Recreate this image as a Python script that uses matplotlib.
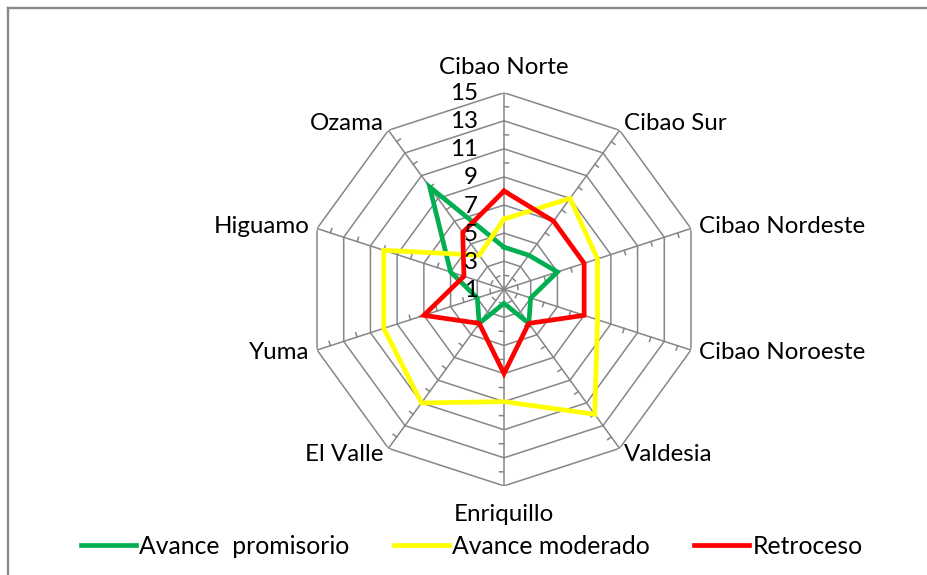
import numpy as np
import matplotlib
matplotlib.use('Agg')
import matplotlib.pyplot as plt
from matplotlib.lines import Line2D

# Regions, clockwise from the top
categories = ['Cibao Norte', 'Cibao Sur', 'Cibao Nordeste', 'Cibao Noroeste', 'Valdesia',
              'Enriquillo', 'El Valle', 'Yuma', 'Higuamo', 'Ozama']
promisorio = [4, 4, 5, 3, 4, 2, 4, 3, 5, 10]
moderado = [6, 9, 8, 8, 12, 9, 11, 10, 10, 4]
retroceso = [8, 7, 7, 7, 4, 7, 4, 7, 4, 6]
series_names = ['Avance  promisorio', 'Avance moderado', 'Retroceso']
series_colors = ['#00B050', '#FFFF00', '#FF0000']

r_min, r_max = 1, 15
ring_values = [3, 5, 7, 9, 11, 13, 15]
minor_values = [2, 4, 6, 8, 10, 12, 14]
radial_labels = ['1', '3', '5', '7', '9', '11', '13', '15']

plt.rcParams['font.family'] = ['Lato', 'DejaVu Sans']
FS = 17.4
GRID = '#868686'

W, H = 928, 575
fig = plt.figure(figsize=(W / 100, H / 100), dpi=100)

# polar axes placed so the web is centred at (504, 289) px with radius ~197 px
cx, cy, R = 504, 289.3, 196.6
ax = fig.add_axes([(cx - R) / W, (H - cy - R) / H, 2 * R / W, 2 * R / H], projection='polar')
ax.set_theta_offset(np.pi / 2)
ax.set_theta_direction(-1)
ax.set_ylim(r_min, r_max)
ax.grid(False)
ax.set_xticks([])
ax.set_yticks([])
ax.spines['polar'].set_visible(False)
ax.patch.set_alpha(0)

n = len(categories)
angles = np.linspace(0, 2 * np.pi, n, endpoint=False)
closed = np.append(angles, angles[0])

# polygon rings and spokes
for v in ring_values:
    ax.plot(closed, [v] * (n + 1), color=GRID, lw=1.1, zorder=1)
for a in angles:
    ax.plot([a, a], [r_min, r_max], color=GRID, lw=1.1, zorder=1)
    # small minor tick marks on the clockwise side of each spoke
    for v in minor_values:
        rpx = (v - r_min) / (r_max - r_min) * R
        ax.plot([a, a + 4.5 / rpx], [v, v], color=GRID, lw=1.1, zorder=1)

# data series
for vals, name, col in zip([promisorio, moderado, retroceso], series_names, series_colors):
    ax.plot(closed, vals + vals[:1], color=col, lw=3.4, label=name, zorder=3,
            solid_joinstyle='miter')

# radial value labels beside the top spoke
for v, lbl in zip([1] + ring_values, radial_labels):
    ax.annotate(lbl, xy=(0, v), xytext=(-26, -1), textcoords='offset pixels',
                ha='right', va='center', fontsize=FS, color='black')

# category labels
for a, cat in zip(angles, categories):
    s, c = np.sin(a), np.cos(a)
    if abs(s) < 0.1:
        ha, d = 'center', (25 if c > 0 else 29)
    else:
        ha, d = ('left' if s > 0 else 'right'), 8
    ax.annotate(cat, xy=(a, r_max), xytext=(d * s, d * c), textcoords='offset pixels',
                ha=ha, va='center', fontsize=FS, color='black', annotation_clip=False)

# legend along the bottom
handles = [Line2D([], [], color=col, lw=3.4) for col in series_colors]
fig.legend(handles, series_names, loc='center', bbox_to_anchor=(472 / W, 1 - 546 / H),
           ncol=3, frameon=False, fontsize=17.8, handlelength=2.2, handletextpad=0.15,
           columnspacing=1.8)

# chart-area border (top and left edges visible)
fig.add_artist(Line2D([8 / W, 8 / W], [0, 1 - 7.8 / H], color='#898989', lw=1.7))
fig.add_artist(Line2D([8 / W, 1], [1 - 7.8 / H, 1 - 7.8 / H], color='#898989', lw=1.7))

fig.savefig('out.png', dpi=100)
